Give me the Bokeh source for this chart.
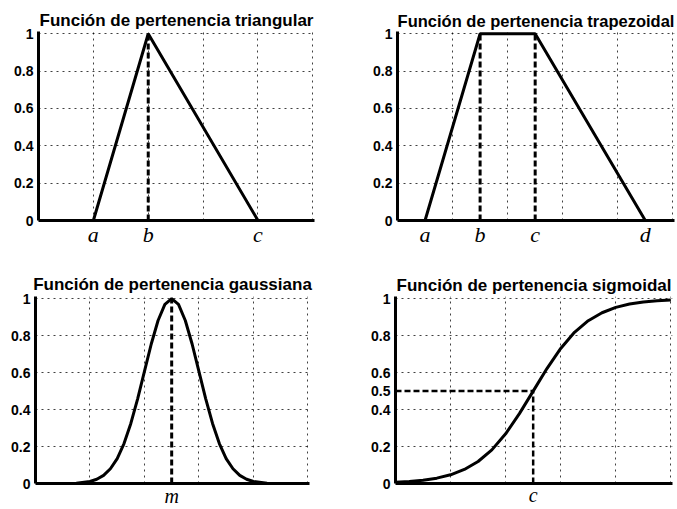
from bokeh.plotting import figure
from bokeh.models import Range1d, FixedTicker, CustomJSTickFormatter
from bokeh.layouts import column, row
from bokeh.embed import file_html
from bokeh.resources import INLINE

# ---------------- data ----------------
grid_x = [2, 4, 6, 8, 10]
grid_y = [0.2, 0.4, 0.6, 0.8, 1.0]
y_ticks = [0, 0.2, 0.4, 0.6, 0.8, 1.0]
y_ticks_sig = [0, 0.2, 0.4, 0.5, 0.6, 0.8, 1.0]

tri_title = "Función de pertenencia triangular"
tri_x = [0, 2, 4, 8, 10]
tri_y = [0, 0, 1, 0, 0]
tri_ticks = [2, 4, 8]
tri_labels = ["a", "b", "c"]
tri_b = 4

trap_title = "Función de pertenencia trapezoidal"
trap_x = [0, 1, 3, 5, 9, 10]
trap_y = [0, 0, 1, 1, 0, 0]
trap_ticks = [1, 3, 5, 9]
trap_labels = ["a", "b", "c", "d"]
trap_b = 3
trap_c = 5

gauss_title = "Función de pertenencia gaussiana"
gauss_x = [0, 1, 1.5, 2, 2.25, 2.5, 2.75, 3, 3.25, 3.5, 3.75, 4, 4.25, 4.5, 4.75,
           5, 5.25, 5.5, 5.75, 6, 6.25, 6.5, 6.75, 7, 7.25, 7.5, 7.75, 8, 8.5, 9, 10]
gauss_y = [0, 0, 0.002, 0.011, 0.023, 0.044, 0.080, 0.135, 0.216, 0.325, 0.458, 0.607, 0.755, 0.882, 0.969,
           1.0, 0.969, 0.882, 0.755, 0.607, 0.458, 0.325, 0.216, 0.135, 0.080, 0.044, 0.023, 0.011, 0.002, 0, 0]
gauss_ticks = [5]
gauss_labels = ["m"]
gauss_m = 5

sig_title = "Función de pertenencia sigmoidal"
sig_x = [0, 0.5, 1, 1.5, 2, 2.5, 3, 3.5, 4, 4.5, 5, 5.5, 6, 6.5, 7, 7.5, 8, 8.5, 9, 9.5, 10]
sig_y = [0.007, 0.011, 0.018, 0.029, 0.047, 0.076, 0.119, 0.182, 0.269, 0.378, 0.5,
         0.622, 0.731, 0.818, 0.881, 0.924, 0.953, 0.971, 0.982, 0.989, 0.993]
sig_ticks = [5]
sig_labels = ["c"]
sig_c = 5
sig_half = 0.5

FONT = "Liberation Sans"


def make_fig(W, H, bl, br, bt, bb, title, yt, xt, xl, xfs, xstand, tfs="17px", tstand=3):
    p = figure(width=W, height=H, x_range=Range1d(0, 10.06), y_range=Range1d(0, 1.012),
               output_backend="svg", toolbar_location=None, title=title,
               min_border_left=bl, min_border_right=br, min_border_top=bt, min_border_bottom=bb)
    p.outline_line_color = None
    p.background_fill_color = "white"
    p.border_fill_color = "white"
    p.title.align = "center"
    p.title.text_font = FONT
    p.title.text_font_size = tfs
    p.title.text_font_style = "bold"
    p.title.text_color = "black"
    p.title.standoff = tstand
    p.title.offset = 0
    # y axis
    ya = p.yaxis[0]
    ya.ticker = FixedTicker(ticks=yt)
    ya.formatter = CustomJSTickFormatter(code="return String(Math.round(tick*10)/10);")
    ya.major_label_text_font = FONT
    ya.major_label_text_font_style = "bold"
    ya.major_label_text_font_size = "14px"
    ya.major_label_text_color = "black"
    ya.major_label_standoff = 5
    ya.major_tick_in = 0
    ya.major_tick_out = 0
    ya.minor_tick_in = 0
    ya.minor_tick_out = 0
    ya.major_tick_line_color = None
    ya.minor_tick_line_color = None
    ya.axis_line_width = 3
    ya.axis_line_color = "black"
    # x axis
    xa = p.xaxis[0]
    xa.ticker = FixedTicker(ticks=xt)
    xa.major_label_overrides = {t: l for t, l in zip(xt, xl)}
    xa.major_label_text_font = "Liberation Serif"
    xa.major_label_text_font_style = "italic"
    xa.major_label_text_font_size = xfs
    xa.major_label_text_color = "black"
    xa.major_label_standoff = xstand
    xa.major_tick_in = 0
    xa.major_tick_out = 0
    xa.minor_tick_in = 0
    xa.minor_tick_out = 0
    xa.major_tick_line_color = None
    xa.minor_tick_line_color = None
    xa.axis_line_width = 3
    xa.axis_line_color = "black"
    # grids
    p.xgrid.ticker = FixedTicker(ticks=grid_x)
    p.ygrid.ticker = FixedTicker(ticks=grid_y)
    for g in (p.xgrid, p.ygrid):
        g.grid_line_color = "black"
        g.grid_line_alpha = 0.75
        g.grid_line_width = 1
        g.grid_line_dash = "2 4"
    return p


LW = 3
DASH = "6 3"

p1 = make_fig(340, 255, 38, 26, 31, 35, tri_title, y_ticks, tri_ticks, tri_labels, "22px", 1)
p1.line([tri_b, tri_b], [0, 1], line_width=3, line_color="black", line_dash=DASH)
p1.line(tri_x, tri_y, line_width=LW, line_color="black")

p2 = make_fig(337, 255, 57, 3, 31, 33, trap_title, y_ticks, trap_ticks, trap_labels, "22px", 1, tfs="16.5px")
p2.line([trap_b, trap_b], [0, 1], line_width=3, line_color="black", line_dash=DASH)
p2.line([trap_c, trap_c], [0, 1], line_width=3, line_color="black", line_dash=DASH)
p2.line(trap_x, trap_y, line_width=LW, line_color="black")

p3 = make_fig(340, 254, 35, 31, 40, 26, gauss_title, y_ticks, gauss_ticks, gauss_labels, "20px", 1, tstand=5)
p3.line([gauss_m, gauss_m], [0, 1], line_width=3, line_color="black", line_dash=DASH)
p3.line(gauss_x, gauss_y, line_width=LW, line_color="black")

p4 = make_fig(337, 254, 55, 5, 41, 23, sig_title, y_ticks_sig, sig_ticks, sig_labels, "20px", 0, tstand=4)
p4.line([0, sig_c], [sig_half, sig_half], line_width=2.5, line_color="black", line_dash=DASH)
p4.line([sig_c, sig_c], [0, sig_half], line_width=2.5, line_color="black", line_dash=DASH)
p4.line(sig_x, sig_y, line_width=LW, line_color="black")

layout = column(row(p1, p2), row(p3, p4))
open("out.html", "w").write(file_html(layout, INLINE))
